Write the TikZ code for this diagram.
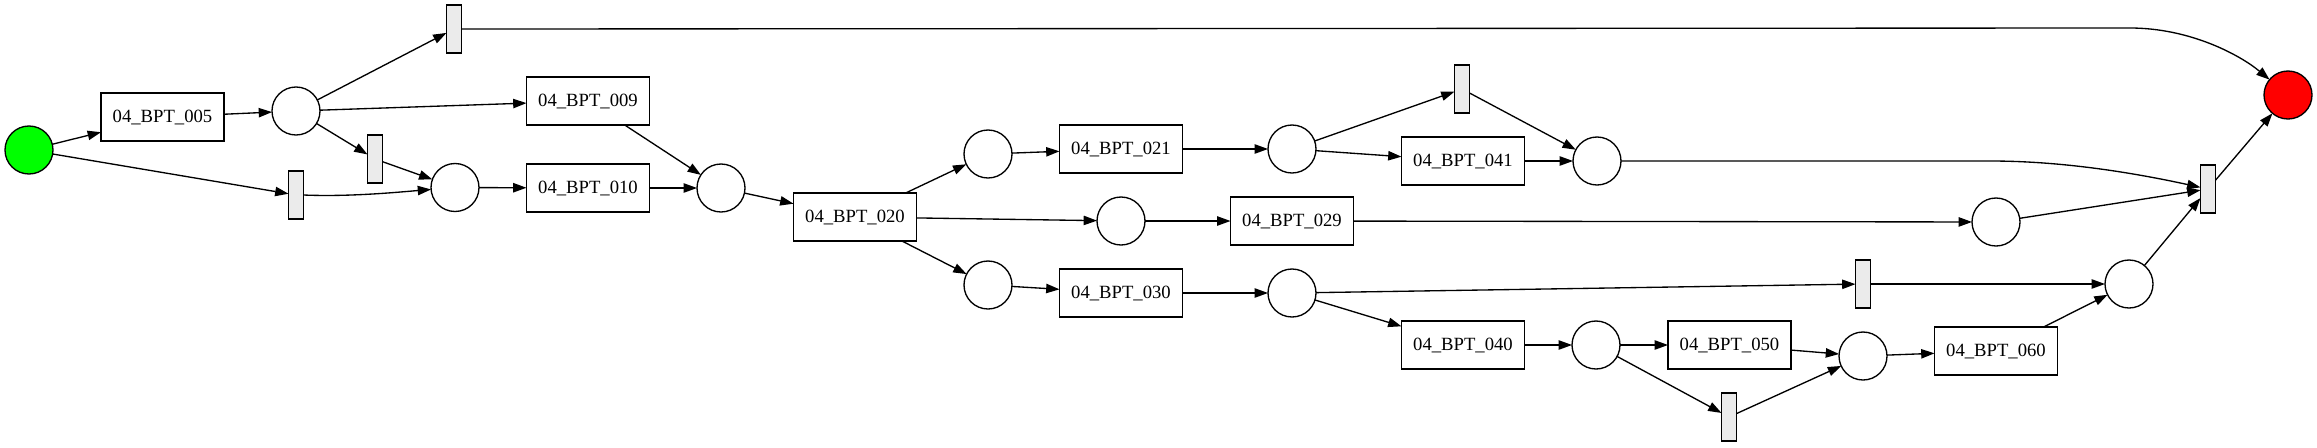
\documentclass[tikz,border=0pt]{standalone}
\usepackage{fontspec}
\setmainfont{Liberation Serif}
\usetikzlibrary{arrows.meta}
\definecolor{silentgray}{HTML}{EBEBEB}
\begin{document}
\begin{tikzpicture}[x=0.75pt,y=-0.75pt,
  every node/.style={inner sep=0pt,outer sep=0pt,line width=1pt},
  trans/.style={draw,rectangle,minimum width=92.25pt,minimum height=36pt,font=\fontsize{14}{16}\selectfont},
  place/.style={draw,circle,minimum size=36pt},
  silent/.style={draw,rectangle,fill=silentgray,minimum width=11.25pt,minimum height=36pt},
  arr/.style={line width=1pt,-{Triangle[length=10pt,width=7pt]}}]
\useasboundingbox (0,0) rectangle (2317,447);
% nodes
\node[place,fill={rgb,255:red,0;green,255;blue,0}] (start) at (29,150) {};
\node[place,fill={rgb,255:red,255;green,0;blue,0}] (end) at (2288,95) {};
\node[trans] (t005) at (162.5,117) {04\_BPT\_005};
\node[place] (p1) at (296,111) {};
\node[silent] (ttop) at (454,29) {};
\node[silent] (ta) at (375,159) {};
\node[silent] (tb) at (296,195) {};
\node[place] (p2) at (455,187.5) {};
\node[trans] (t009) at (588,101) {04\_BPT\_009};
\node[trans] (t010) at (588,188) {04\_BPT\_010};
\node[place] (p3) at (721,188) {};
\node[trans] (t020) at (855,217) {04\_BPT\_020};
\node[place] (p4) at (988,154) {};
\node[trans] (t021) at (1121,149) {04\_BPT\_021};
\node[place] (p5) at (1292,149) {};
\node[silent] (tc) at (1462,89) {};
\node[trans] (t041) at (1463,161) {04\_BPT\_041};
\node[place] (p6) at (1597,161) {};
\node[place] (p7) at (1121,221) {};
\node[trans] (t029) at (1292,221) {04\_BPT\_029};
\node[place] (p8) at (1996,222) {};
\node[silent] (tend) at (2208,189) {};
\node[place] (p11) at (988,285) {};
\node[trans] (t030) at (1121,293) {04\_BPT\_030};
\node[place] (p12) at (1292,293) {};
\node[silent] (td) at (1863,284) {};
\node[place] (p9) at (2129,284) {};
\node[trans] (t040) at (1463,345) {04\_BPT\_040};
\node[place] (p13) at (1596,345) {};
\node[trans] (t050) at (1729.5,345) {04\_BPT\_050};
\node[silent] (te) at (1729,417) {};
\node[place] (p10) at (1863,356) {};
\node[trans] (t060) at (1996,351) {04\_BPT\_060};
% edges
\draw[arr] (start) -- (t005);
\draw[arr] (start) -- (tb);
\draw[arr] (t005) -- (p1);
\draw[arr] (p1) -- (ttop);
\draw[arr] (p1) -- (t009);
\draw[arr] (p1) -- (ta);
\draw[arr] (ta) -- (p2);
\draw[arr] (tb.east) .. controls (350,197) and (400,192) .. (p2);
\draw[arr] (p2) -- (t010);
\draw[arr] (t009) -- (p3);
\draw[arr] (t010) -- (p3);
\draw[arr] (p3) -- (t020);
\draw[arr] (t020) -- (p4);
\draw[arr] (t020) -- (p7);
\draw[arr] (t020) -- (p11);
\draw[arr] (p4) -- (t021);
\draw[arr] (t021) -- (p5);
\draw[arr] (p5) -- (tc);
\draw[arr] (p5) -- (t041);
\draw[arr] (tc) -- (p6);
\draw[arr] (t041) -- (p6);
\draw[arr] (p6) -- (1990,161) .. controls (2060,161) and (2130,172) .. (tend);
\draw[arr] (p7) -- (t029);
\draw[arr] (t029) -- (p8);
\draw[arr] (p8) -- (tend);
\draw[arr] (p11) -- (t030);
\draw[arr] (t030) -- (p12);
\draw[arr] (p12) -- (td);
\draw[arr] (p12) -- (t040);
\draw[arr] (td) -- (p9);
\draw[arr] (t040) -- (p13);
\draw[arr] (p13) -- (t050);
\draw[arr] (p13) -- (te);
\draw[arr] (t050) -- (p10);
\draw[arr] (te) -- (p10);
\draw[arr] (p10) -- (t060);
\draw[arr] (t060) -- (p9);
\draw[arr] (p9) -- (tend);
\draw[arr] (tend) -- (end);
\draw[arr] (ttop) -- (2130,28) .. controls (2190,28) and (2240,55) .. (end);
\end{tikzpicture}
\end{document}
